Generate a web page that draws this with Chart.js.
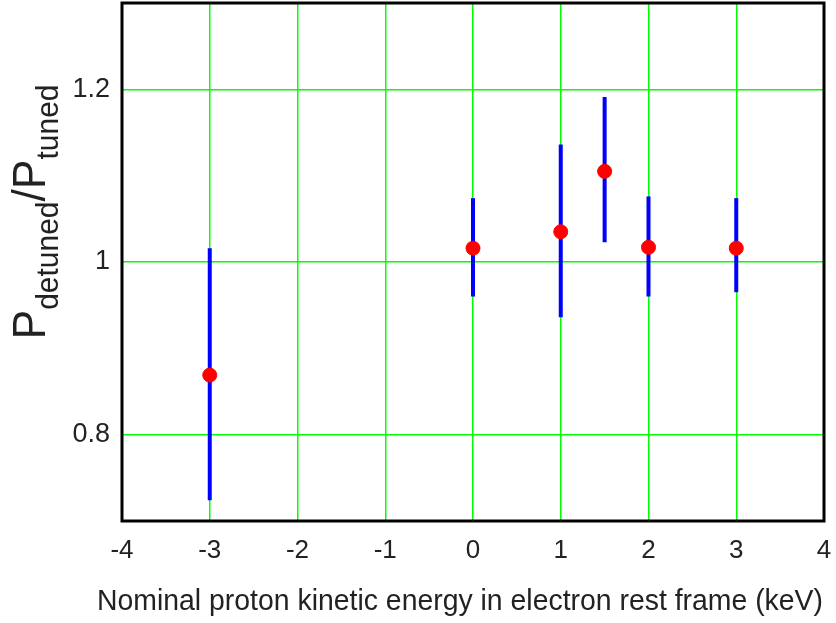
<!DOCTYPE html>
<html>
<head>
<meta charset="utf-8">
<script src="https://cdn.jsdelivr.net/npm/chart.js@4/dist/chart.umd.min.js"></script>
<style>
  html, body { margin: 0; padding: 0; background: #fff; }
  #wrap { width: 836px; height: 623px; overflow: hidden; }
  #grafica { display: block; margin-top: -5px; }
</style>
</head>
<body>
<div id="wrap"><canvas id="grafica" width="836" height="628"></canvas></div>
<script>
// energia nominal (keV) y cociente medido, con barras de error
var energias = [-3, 0, 1, 1.5, 2, 3];
var cociente = [0.869, 1.016, 1.035, 1.105, 1.017, 1.016];
var errAlto = [1.016, 1.074, 1.136, 1.191, 1.076, 1.074];
var errBajo = [0.724, 0.960, 0.936, 1.023, 0.960, 0.965];
var ticksX = [-4, -3, -2, -1, 0, 1, 2, 3, 4];
var ticksY = [0.8, 1.0, 1.2];

var fuente = '"Liberation Sans", Arial, sans-serif';
var desfase = 5; // el lienzo sube 5 px

// barras de error verticales, dibujadas antes que los puntos
var barrasError = {
  id: 'barrasError',
  beforeDatasetsDraw: function (chart) {
    var c = chart.ctx, sx = chart.scales.x, sy = chart.scales.y;
    c.save();
    c.strokeStyle = '#0000ff';
    c.lineWidth = 4;
    for (var i = 0; i < energias.length; i++) {
      var px = sx.getPixelForValue(energias[i]);
      c.beginPath();
      c.moveTo(px, sy.getPixelForValue(errAlto[i]));
      c.lineTo(px, sy.getPixelForValue(errBajo[i]));
      c.stroke();
    }
    c.restore();
  }
};

// marco negro y titulos de los ejes (con subindices)
var marcoTitulos = {
  id: 'marcoTitulos',
  afterDraw: function (chart) {
    var c = chart.ctx, a = chart.chartArea;
    c.save();
    c.strokeStyle = '#000';
    c.lineWidth = 3;
    c.strokeRect(a.left, a.top, a.right - a.left, a.bottom - a.top);

    // titulo eje x
    c.fillStyle = '#222';
    c.font = '30px ' + fuente;
    c.textAlign = 'center';
    c.textBaseline = 'alphabetic';
    var tx = 'Nominal proton kinetic energy in electron rest frame (keV)';
    var w = c.measureText(tx).width;
    c.save();
    c.translate(460, 610 + desfase);
    c.scale(726 / w, 1);
    c.fillText(tx, 0, 0);
    c.restore();

    // titulo eje y: P_detuned / P_tuned
    c.save();
    c.translate(45, 212 + desfase);
    c.rotate(-Math.PI / 2);
    c.textAlign = 'left';
    var partes = [
      ['P', '46px', 0], ['detuned', '31px', 13], ['/P', '46px', 0], ['tuned', '31px', 13]
    ];
    var total = 0;
    partes.forEach(function (p) { c.font = p[1] + ' ' + fuente; total += c.measureText(p[0]).width; });
    c.scale(255 / total, 1);
    var x = -total / 2;
    partes.forEach(function (p) {
      c.font = p[1] + ' ' + fuente;
      c.fillText(p[0], x, p[2]);
      x += c.measureText(p[0]).width;
    });
    c.restore();
    c.restore();
  }
};

function sinRelleno(s) {
  s.paddingTop = 0; s.paddingBottom = 0; s.paddingLeft = 0; s.paddingRight = 0;
}

var ctx = document.getElementById('grafica').getContext('2d');
var myChart = new Chart(ctx, {
  type: 'scatter',
  data: {
    datasets: [{
      data: energias.map(function (e, i) { return { x: e, y: cociente[i] }; }),
      backgroundColor: '#ff0000',
      borderColor: '#ff0000',
      pointRadius: 7,
      pointHoverRadius: 7
    }]
  },
  options: {
    responsive: false,
    animation: false,
    plugins: { legend: { display: false }, tooltip: { enabled: false } },
    layout: { padding: { left: 0, right: 12, top: 0, bottom: 0 } },
    scales: {
      x: {
        type: 'linear',
        min: -4, max: 4,
        afterBuildTicks: function (s) { s.ticks = ticksX.map(function (v) { return { value: v }; }); },
        afterFit: function (s) { s.height = 102; sinRelleno(s); },
        grid: { color: '#00ff00', lineWidth: 1.5, drawTicks: false },
        border: { display: false },
        ticks: { color: '#222', font: { family: fuente, size: 26 }, padding: 14, maxRotation: 0, autoSkip: false }
      },
      y: {
        min: 0.7, max: 1.3,
        afterBuildTicks: function (s) { s.ticks = ticksY.map(function (v) { return { value: v }; }); },
        afterFit: function (s) { s.width = 122; sinRelleno(s); },
        grid: { color: '#00ff00', lineWidth: 1.5, drawTicks: false },
        border: { display: false },
        ticks: {
          color: '#222', font: { family: fuente, size: 27 }, padding: 12,
          callback: function (v) { return v === 1 ? '1' : String(Math.round(v * 10) / 10); }
        }
      }
    }
  },
  plugins: [barrasError, marcoTitulos]
});
</script>
</body>
</html>
